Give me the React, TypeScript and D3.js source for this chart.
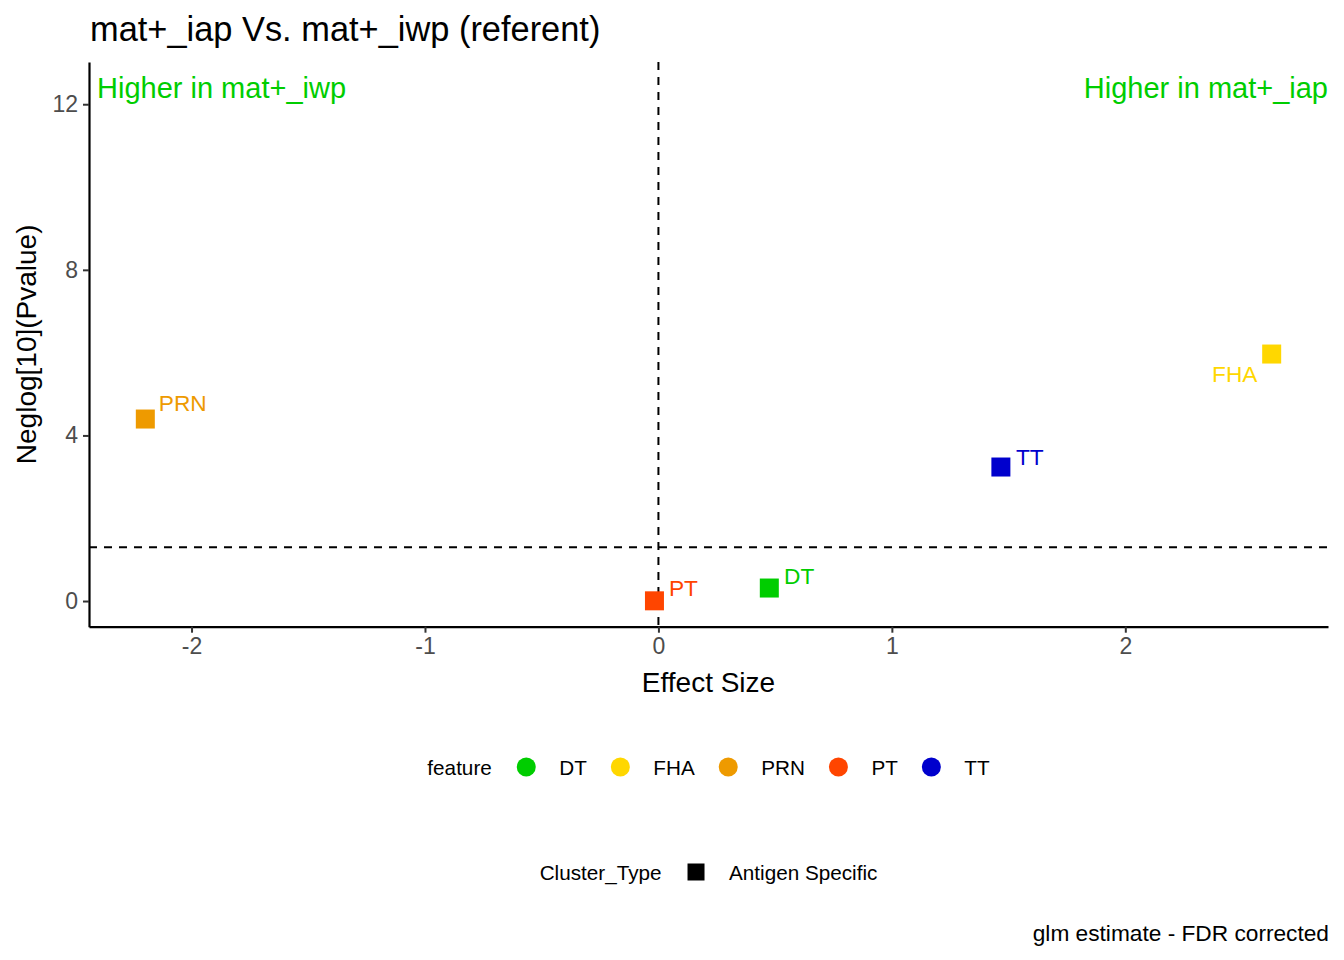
import * as React from "react";
import * as d3 from "d3";

// chart values
const features: string[] = ["DT", "FHA", "PRN", "PT", "TT"];
const featureColors: string[] = ["#00CD00", "#FFD700", "#EE9A00", "#FF4500", "#0000CD"];
const effectSize: number[] = [0.475, 2.627, -2.198, -0.017, 1.467];
const neglogP: number[] = [0.314, 5.966, 4.396, 0.005, 3.237];
const yLimits: number[] = [0, 12.4];
const xTicks: number[] = [-2, -1, 0, 1, 2];
const yTicks: number[] = [0, 4, 8, 12];
const pThreshold: number = 0.05;
const clusterTypes: string[] = ["Antigen Specific"];

// where the repelled labels ended up, relative to each point: [dx, dy, anchor]
const labelNudge: [number, number, string][] = [
  [14.8, -4, "start"],
  [-14.2, 28, "end"],
  [13.5, -7.6, "start"],
  [14.5, -4.4, "start"],
  [15, -2.3, "start"]
];

type Margin = {
  top: number;
  bottom: number;
  left: number;
  right: number;
};

const FONT: string = "'Liberation Sans', Arial, sans-serif";

export default class App extends React.PureComponent {
  private width: number = 1344;
  private height: number = 960;
  private panel: Margin = {
    left: 89,
    right: 1328,
    top: 62,
    bottom: 626.7
  };
  private svgRef: React.RefObject<SVGSVGElement | null> = React.createRef<SVGSVGElement>();

  public componentDidMount(): void {
    this.drawChart();
  }

  public render(): JSX.Element {
    return <svg ref={this.svgRef}
              width={this.width}
              height={this.height}
              style={{ position: "absolute", left: 0, top: 0, background: "#ffffff" }}/>;
  }

  private drawChart(): void {
    const svg = d3.select(this.svgRef.current);
    svg.selectAll("*").remove();
    const p: Margin = this.panel;

    // ggplot style 5% expansion of the limits
    const xExtent = d3.extent(effectSize) as [number, number];
    const xPad: number = (xExtent[1] - xExtent[0]) * 0.05;
    const yPad: number = (yLimits[1] - yLimits[0]) * 0.05;

    const x = d3.scaleLinear()
        .domain([xExtent[0] - xPad, xExtent[1] + xPad])
        .range([p.left, p.right]);
    const y = d3.scaleLinear()
        .domain([yLimits[0] - yPad, yLimits[1] + yPad])
        .range([p.bottom, p.top]);

    // title
    svg.append("text")
        .attr("x", 90)
        .attr("y", 41)
        .style("font-family", FONT)
        .style("font-size", "34.4px")
        .attr("fill", "#000000")
        .text("mat+_iap Vs. mat+_iwp (referent)");

    // reference lines
    svg.append("line")
        .attr("x1", x(0)).attr("x2", x(0))
        .attr("y1", p.top).attr("y2", p.bottom)
        .attr("stroke", "#000000")
        .attr("stroke-width", 2)
        .attr("stroke-dasharray", "8,7");
    svg.append("line")
        .attr("x1", p.left).attr("x2", p.right)
        .attr("y1", y(-Math.log10(pThreshold))).attr("y2", y(-Math.log10(pThreshold)))
        .attr("stroke", "#000000")
        .attr("stroke-width", 2)
        .attr("stroke-dasharray", "8,7");

    // axes
    const xAxis = d3.axisBottom(x).tickValues(xTicks).tickSizeInner(6).tickSizeOuter(0)
        .tickPadding(5).tickFormat(d3.format("d"));
    const yAxis = d3.axisLeft(y).tickValues(yTicks).tickSizeInner(6).tickSizeOuter(0)
        .tickPadding(5).tickFormat(d3.format("d"));

    const gx = svg.append("g")
        .attr("transform", `translate(0, ${p.bottom})`)
        .call(xAxis);
    const gy = svg.append("g")
        .attr("transform", `translate(${p.left}, 0)`)
        .call(yAxis);

    [gx, gy].forEach((g) => {
      g.select(".domain").attr("stroke", "#000000").attr("stroke-width", 2.2);
      g.selectAll(".tick line").attr("stroke", "#333333").attr("stroke-width", 2);
      g.selectAll(".tick text")
          .attr("fill", "#4D4D4D")
          .style("font-family", FONT)
          .style("font-size", "23px");
    });
    // minus sign rendered as hyphen like R
    gx.selectAll(".tick text").text((d: any) => String(d).replace("\u2212", "-"));

    // axis titles
    svg.append("text")
        .attr("x", (p.left + p.right) / 2)
        .attr("y", 692)
        .attr("text-anchor", "middle")
        .style("font-family", FONT)
        .style("font-size", "28px")
        .text("Effect Size");
    svg.append("text")
        .attr("transform", `translate(35.5, ${(p.top + p.bottom) / 2}) rotate(-90)`)
        .attr("text-anchor", "middle")
        .style("font-family", FONT)
        .style("font-size", "28px")
        .text("Neglog[10](Pvalue)");

    // corner annotations
    svg.append("text")
        .attr("x", p.left + 8)
        .attr("y", 98)
        .attr("fill", "#00CD00")
        .style("font-family", FONT)
        .style("font-size", "29px")
        .text("Higher in mat+_iwp");
    svg.append("text")
        .attr("x", p.right)
        .attr("y", 98)
        .attr("text-anchor", "end")
        .attr("fill", "#00CD00")
        .style("font-family", FONT)
        .style("font-size", "29px")
        .text("Higher in mat+_iap");

    // points
    const side: number = 19;
    const idx: number[] = d3.range(features.length);
    svg.append("g").selectAll("rect")
        .data(idx)
        .enter().append("rect")
        .attr("x", (i: number) => x(effectSize[i]) - side / 2)
        .attr("y", (i: number) => y(neglogP[i]) - side / 2)
        .attr("width", side)
        .attr("height", side)
        .attr("fill", (i: number) => featureColors[i]);

    svg.append("g").selectAll("text")
        .data(idx)
        .enter().append("text")
        .attr("x", (i: number) => x(effectSize[i]) + labelNudge[i][0])
        .attr("y", (i: number) => y(neglogP[i]) + labelNudge[i][1])
        .attr("text-anchor", (i: number) => labelNudge[i][2])
        .attr("fill", (i: number) => featureColors[i])
        .style("font-family", FONT)
        .style("font-size", "22.7px")
        .text((i: number) => features[i]);

    this.drawLegends(svg, (p.left + p.right) / 2);

    // caption
    svg.append("text")
        .attr("x", p.right + 1)
        .attr("y", 941)
        .attr("text-anchor", "end")
        .style("font-family", FONT)
        .style("font-size", "22.7px")
        .text("glm estimate - FDR corrected");
  }

  private drawLegends(svg: d3.Selection<SVGSVGElement | null, unknown, null, undefined>, centerX: number): void {
    const fontSize: number = 20.7;
    const key: number = 19;
    const gapTitle: number = 25;
    const gapLabel: number = 23.5;
    const gapItem: number = 24;

    // feature legend (circles)
    const row1 = svg.append("g");
    let cursor: number = 0;
    const t1 = row1.append("text")
        .attr("x", cursor).attr("y", 7.5)
        .style("font-family", FONT).style("font-size", `${fontSize}px`)
        .text("feature");
    cursor += (t1.node() as SVGTextElement).getComputedTextLength() + gapTitle;
    features.forEach((f: string, i: number) => {
      row1.append("circle")
          .attr("cx", cursor + key / 2).attr("cy", 0)
          .attr("r", key / 2)
          .attr("fill", featureColors[i]);
      cursor += key + gapLabel;
      const t = row1.append("text")
          .attr("x", cursor).attr("y", 7.5)
          .style("font-family", FONT).style("font-size", `${fontSize}px`)
          .text(f);
      cursor += (t.node() as SVGTextElement).getComputedTextLength();
      if (i < features.length - 1) {
        cursor += gapItem;
      }
    });
    row1.attr("transform", `translate(${centerX - cursor / 2}, 767)`);

    // cluster type legend (squares)
    const row2 = svg.append("g");
    cursor = 0;
    const t2 = row2.append("text")
        .attr("x", cursor).attr("y", 7.5)
        .style("font-family", FONT).style("font-size", `${fontSize}px`)
        .text("Cluster_Type");
    cursor += (t2.node() as SVGTextElement).getComputedTextLength() + gapTitle;
    clusterTypes.forEach((c: string) => {
      row2.append("rect")
          .attr("x", cursor + 1).attr("y", -key / 2 + 1)
          .attr("width", key - 2).attr("height", key - 2)
          .attr("fill", "#000000");
      cursor += key + gapLabel;
      const t = row2.append("text")
          .attr("x", cursor).attr("y", 7.5)
          .style("font-family", FONT).style("font-size", `${fontSize}px`)
          .text(c);
      cursor += (t.node() as SVGTextElement).getComputedTextLength();
    });
    row2.attr("transform", `translate(${centerX - cursor / 2}, 872)`);
  }
}
